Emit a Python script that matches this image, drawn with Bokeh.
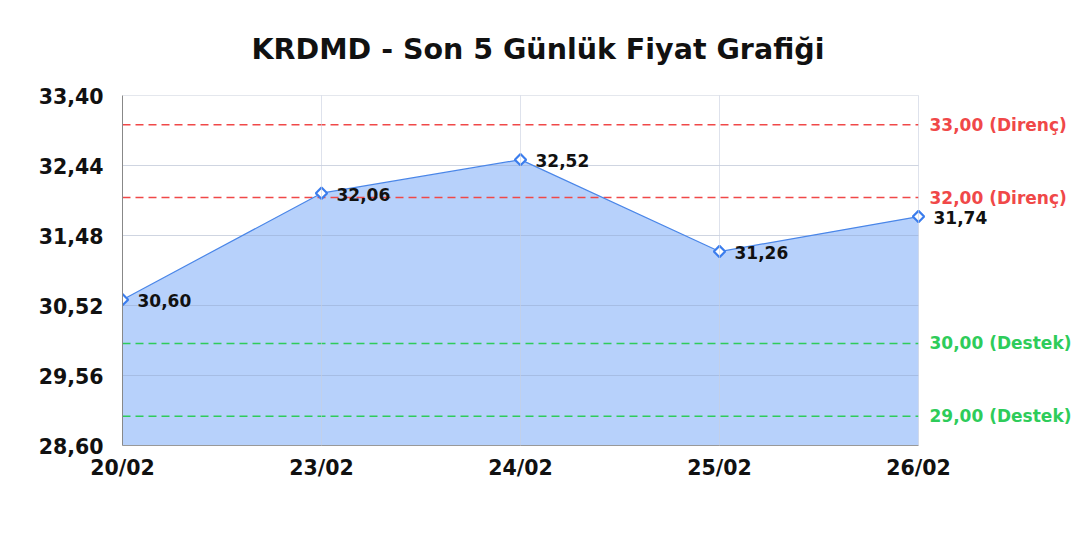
import math
from bokeh.plotting import figure
from bokeh.models import ColumnDataSource, Range1d, FixedTicker, Label, LabelSet
from bokeh.core.properties import value
from bokeh.embed import file_html
from bokeh.resources import INLINE

dates = ["20/02", "23/02", "24/02", "25/02", "26/02"]
prices = [30.60, 32.06, 32.52, 31.26, 31.74]
y_ticks = [28.60, 29.56, 30.52, 31.48, 32.44, 33.40]
resistance = [33.00, 32.00]
support = [30.00, 29.00]

def tr(v):
    return f"{v:.2f}".replace(".", ",")

xs = list(range(len(dates)))
x_last = xs[-1]
src = ColumnDataSource(dict(x=xs, y=prices, base=[y_ticks[0]] * len(xs),
                            lbl=[tr(v) for v in prices]))

W, H = 1080, 524
LEFT, TOP, BOTTOM = 122, 95, 79
PLOT_W = 796  # width of the data part of the frame
extra = (W - LEFT - PLOT_W) / PLOT_W * x_last

p = figure(width=W, height=H, output_backend="svg", toolbar_location=None,
           x_range=Range1d(0, x_last + extra), y_range=Range1d(y_ticks[0], y_ticks[-1]),
           min_border_left=LEFT, min_border_right=0, min_border_top=TOP,
           min_border_bottom=BOTTOM, title="KRDMD - Son 5 Günlük Fiyat Grafiği")
p.outline_line_color = None
p.title.text_font = "DejaVu Sans"
p.title.text_font_size = "28.5px"
p.title.text_font_style = "bold"
p.title.text_color = "#111111"
p.title.align = "left"
p.title.offset = 129
p.title.standoff = 59

# horizontal grid lines limited to the data area
p.segment(x0=[0] * len(y_ticks), x1=[x_last] * len(y_ticks), y0=y_ticks, y1=y_ticks,
          line_color="#e3e3e3", line_width=1, level="underlay")

p.varea(x="x", y1="base", y2="y", source=src, fill_color="#4285f4", fill_alpha=0.38)

# horizontal grid over fill (subtle)
p.segment(x0=[0] * len(y_ticks), x1=[x_last] * len(y_ticks), y0=y_ticks, y1=y_ticks,
          line_color="#aabbdd", line_width=1, line_alpha=0.35)

p.segment(x0=[0] * 2, x1=[x_last] * 2, y0=resistance, y1=resistance,
          line_color="#f04848", line_dash="8 5", line_width=1.5)
p.segment(x0=[0] * 2, x1=[x_last] * 2, y0=support, y1=support,
          line_color="#2ecc5a", line_dash="8 5", line_width=1.5)

p.line(x="x", y="y", source=src, line_color="#4a86e8", line_width=1.2)
p.scatter(x="x", y="y", source=src, marker="square", angle=math.pi / 4, size=8,
          fill_color="white", line_color="#3b7ded", line_width=2.2)
p.add_layout(LabelSet(x="x", y="y", text="lbl", source=src, x_offset=15, y_offset=-1,
                      text_font=value("DejaVu Sans"), text_font_size=value("17px"),
                      text_font_style="bold", text_color="#111111", text_baseline="middle"))

for v in resistance:
    p.add_layout(Label(x=x_last, y=v, x_offset=11, text=f"{tr(v)} (Direnç)",
                       text_font="DejaVu Sans", text_font_size="17px", text_font_style="bold",
                       text_color="#f04848", text_baseline="middle"))
for v in support:
    p.add_layout(Label(x=x_last, y=v, x_offset=11, text=f"{tr(v)} (Destek)",
                       text_font="DejaVu Sans", text_font_size="17px", text_font_style="bold",
                       text_color="#2ecc5a", text_baseline="middle"))

p.yaxis.ticker = FixedTicker(ticks=y_ticks)
p.yaxis.major_label_overrides = {v: tr(v) for v in y_ticks}
p.xaxis.ticker = FixedTicker(ticks=xs)
p.xaxis.major_label_overrides = {i: d for i, d in zip(xs, dates)}
p.xaxis.bounds = (0, x_last)
for ax in (p.xaxis, p.yaxis):
    ax.major_label_text_font = "DejaVu Sans"
    ax.major_label_text_font_size = "20.5px"
    ax.major_label_text_font_style = "bold"
    ax.major_label_text_color = "#111111"
    ax.major_tick_line_color = None
    ax.minor_tick_line_color = None
    ax.axis_line_color = "#888888"
p.yaxis.major_label_standoff = 13
p.xaxis.major_label_standoff = 4
p.xaxis.axis_line_color = "#999999"
p.ygrid.visible = False
p.xgrid.level = "overlay"
p.xgrid.grid_line_color = "#c8cfe0"
p.xgrid.grid_line_alpha = 0.6

open("out.html", "w").write(file_html(p, INLINE))
